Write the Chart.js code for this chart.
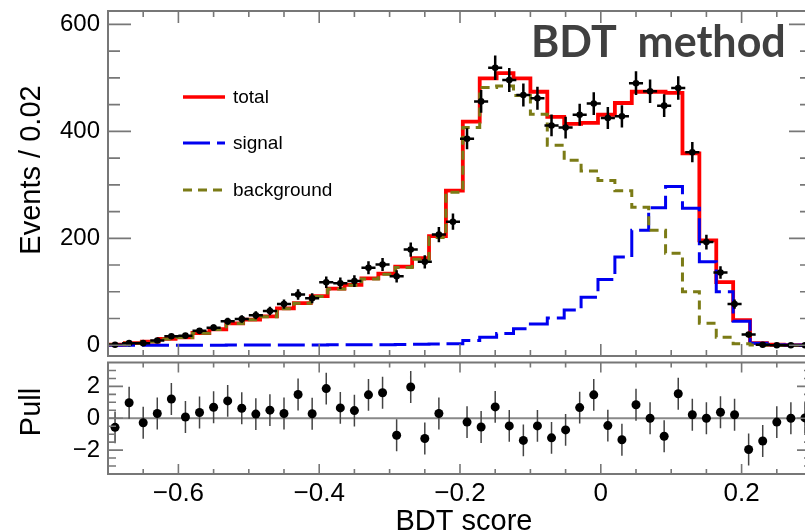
<!DOCTYPE html>
<html>
<head>
<meta charset="utf-8">
<title>BDT score fit</title>
<script src="https://cdn.jsdelivr.net/npm/chart.js@4.4.1/dist/chart.umd.min.js"></script>
<style>
  html, body { margin: 0; padding: 0; background: #fff; overflow: hidden; }
  #page { position: relative; width: 805px; height: 532px; overflow: hidden; }
  #main, #pull { position: absolute; left: 0; }
  #main { top: 0; }
  #pull { top: 358px; }
</style>
</head>
<body>
<div id="page">
  <canvas id="main" width="820" height="360"></canvas>
  <canvas id="pull" width="820" height="174"></canvas>
</div>
<script>
// data histogram: 50 bins of 0.02 starting at -0.7
var dataLo = -0.7, dataBin = 0.02;
var dataCounts = [1, 4, 4, 9, 17, 18, 27, 33, 45, 49,
                  56, 64, 77, 95, 88, 118, 116, 120, 145, 151,
                  129, 179, 156, 207, 231, 386, 456, 519, 496, 468,
                  462, 411, 407, 431, 452, 425, 428, 490, 475, 448,
                  481, 361, 193, 136, 77, 20, 1, 0, 0, 0];
// pull per data bin (the -0.21 bin is off scale)
var pulls = [-0.57, 0.97, -0.28, 0.30, 1.21, 0.08, 0.36, 0.69, 1.09, 0.63,
             0.26, 0.51, 0.30, 1.49, 0.28, 1.86, 0.65, 0.48, 1.47, 1.60,
             -1.07, 1.96, -1.27, 0.30, null, -0.24, -0.55, 0.71, -0.48, -1.39,
             -0.48, -1.23, -0.73, 0.67, 1.47, -0.46, -1.35, 0.85, 0.00, -1.13,
             1.54, 0.22, 0.00, 0.38, 0.22, -1.96, -1.43, -0.24, 0.00, 0.02];

// fit templates: 42 bins of 0.024 starting at -0.7, scaled to events / 0.02
var tmplLo = -0.7, tmplBin = 0.024;
var totalFit = [1, 4, 7, 12, 15, 23, 30, 41, 48, 54,
                69, 79, 92, 106, 113, 125, 134, 147, 163, 204,
                289, 418, 499, 509, 499, 474, 427, 414, 416, 431,
                453, 474, 474, 472, 359, 196, 118, 47, 4, 1, 0.5, 0.3];
var signalFit = [0.2, 0.2, 0.2, 0.2, 0.3, 0.3, 0.3, 0.4, 0.4, 0.5,
                 0.5, 0.6, 0.7, 0.8, 0.9, 1, 1.2, 1.5, 2, 2.5,
                 3, 9, 15, 22, 31, 40, 51, 66, 90, 123,
                 165, 215, 257, 297, 256, 156, 100, 45, 4, 1, 0.4, 0.2];
var backgroundFit = [0.8, 3.8, 6.8, 11.8, 14.7, 22.7, 29.7, 40.6, 47.6, 53.5,
                     68.5, 78.4, 91.3, 105.2, 112.1, 124, 132.8, 145.5, 161, 201.5,
                     286, 407, 482, 485, 467, 432, 374, 346, 326, 308,
                     289, 258, 215, 172, 100, 41, 15, 3, 0.5, 0.2, 0.1, 0.1];

var xTicks = [-0.6, -0.4, -0.2, 0, 0.2];
var eventTicks = [0, 200, 400, 600];
var pullTicks = [-2, 0, 2];

var RED = '#ff0000', BLUE = '#0000f0', OLIVE = '#7b7b16';
var FRAME = '#777';
Chart.defaults.font.family = '"Liberation Sans", Arial, sans-serif';
Chart.defaults.color = '#000';

function minus(v) {
  return v === 0 ? '0' : (v < 0 ? '\u2212' : '') + String(Math.abs(v));
}

function steps(vals) {
  var pts = vals.map(function (v, k) { return { x: tmplLo + k * tmplBin, y: v }; });
  pts.push({ x: tmplLo + vals.length * tmplBin, y: vals[vals.length - 1] });
  return pts;
}

var dataPoints = dataCounts.map(function (n, i) { return { x: dataLo + (i + 0.5) * dataBin, y: n }; });
var pullPoints = pulls.map(function (p, i) { return { x: dataLo + (i + 0.5) * dataBin, y: p }; });

// error bars drawn just before the points of their dataset
var errorBars = {
  id: 'errorBars',
  beforeDatasetDraw: function (chart, args) {
    var ds = chart.data.datasets[args.index];
    if (!ds.errors) return;
    var ctx = chart.ctx, a = chart.chartArea, x = chart.scales.x, y = chart.scales.y;
    ctx.save();
    ctx.beginPath();
    ctx.rect(a.left, a.top, a.width, a.height);
    ctx.clip();
    ctx.strokeStyle = ds.errorColor;
    ctx.lineWidth = ds.errorWidth;
    ctx.beginPath();
    ds.data.forEach(function (p, j) {
      if (p.y === null) return;
      var e = ds.errors[j];
      var px = x.getPixelForValue(p.x), py = y.getPixelForValue(p.y);
      ctx.moveTo(px, y.getPixelForValue(p.y - e));
      ctx.lineTo(px, y.getPixelForValue(p.y + e));
      if (ds.xErr) {
        ctx.moveTo(x.getPixelForValue(p.x - ds.xErr), py);
        ctx.lineTo(x.getPixelForValue(p.x + ds.xErr), py);
      }
    });
    ctx.stroke();
    ctx.restore();
  }
};

// ROOT style frame with inward ticks on all four sides
var framePlugin = {
  id: 'frame',
  beforeDatasetsDraw: function (chart, args, o) {
    if (o.zeroLine) {
      var ctx = chart.ctx, a = chart.chartArea, py = chart.scales.y.getPixelForValue(0);
      ctx.save();
      ctx.strokeStyle = '#888';
      ctx.lineWidth = 2;
      ctx.beginPath();
      ctx.moveTo(a.left, py);
      ctx.lineTo(a.right, py);
      ctx.stroke();
      ctx.restore();
    }
  },
  afterDraw: function (chart, args, o) {
    var ctx = chart.ctx, a = chart.chartArea, x = chart.scales.x, y = chart.scales.y;
    ctx.save();
    ctx.strokeStyle = FRAME;
    ctx.lineWidth = 1.6;
    ctx.beginPath();
    for (var i = 0; i <= 20; i++) {
      var v = x.min + i * 0.05;
      var px = x.getPixelForValue(v);
      var major = xTicks.some(function (t) { return Math.abs(t - v) < 1e-6; });
      var len = major ? o.xMajor : o.xMinor;
      ctx.moveTo(px, a.bottom); ctx.lineTo(px, a.bottom - len);
      ctx.moveTo(px, a.top); ctx.lineTo(px, a.top + len);
    }
    for (var w = o.yFrom; w <= o.yTo + 1e-6; w += o.yStep) {
      var py = y.getPixelForValue(w);
      var ymaj = o.yMajors.some(function (t) { return Math.abs(t - w) < 1e-6; });
      var l = ymaj ? o.yMajor : o.yMinor;
      ctx.moveTo(a.left, py); ctx.lineTo(a.left + l, py);
      ctx.moveTo(a.right, py); ctx.lineTo(a.right - l, py);
    }
    ctx.stroke();
    ctx.lineWidth = 2;
    ctx.strokeRect(a.left, a.top, a.width, a.height);
    ctx.restore();
  }
};

// free text, titles and the legend box
var textPlugin = {
  id: 'texts',
  afterDraw: function (chart, args, o) {
    var ctx = chart.ctx;
    ctx.save();
    (o.lines || []).forEach(function (l) {
      ctx.strokeStyle = l.color;
      ctx.lineWidth = l.width;
      ctx.setLineDash(l.dash || []);
      ctx.beginPath();
      ctx.moveTo(l.x0, l.y);
      ctx.lineTo(l.x1, l.y);
      ctx.stroke();
    });
    ctx.setLineDash([]);
    (o.items || []).forEach(function (t) {
      ctx.save();
      ctx.font = t.font;
      ctx.fillStyle = t.color || '#000';
      ctx.textAlign = t.align || 'left';
      ctx.textBaseline = t.baseline || 'middle';
      ctx.translate(t.x, t.y);
      if (t.rotate) ctx.rotate(-Math.PI / 2);
      ctx.fillText(t.text, 0, 0);
      ctx.restore();
    });
    ctx.restore();
  }
};

var hiddenGrid = { display: false, drawTicks: false };

new Chart(document.getElementById('main'), {
  type: 'line',
  data: {
    datasets: [
      { label: 'data', data: dataPoints, showLine: false, pointRadius: 3.3,
        pointBackgroundColor: '#000', pointBorderWidth: 0, order: 0,
        errors: dataCounts.map(Math.sqrt), xErr: dataBin / 2, errorWidth: 2.5, errorColor: '#000' },
      { label: 'background', data: steps(backgroundFit), stepped: 'before', borderColor: OLIVE,
        borderWidth: 3, borderDash: [9, 6], pointRadius: 0, order: 1 },
      { label: 'signal', data: steps(signalFit), stepped: 'before', borderColor: BLUE,
        borderWidth: 3, borderDash: [27, 7], pointRadius: 0, order: 2 },
      { label: 'total', data: steps(totalFit), stepped: 'before', borderColor: RED,
        borderWidth: 3.8, pointRadius: 0, order: 3 }
    ]
  },
  options: {
    responsive: false,
    animation: false,
    events: [],
    layout: { padding: { left: 0, top: 11, right: 8, bottom: 0 } },
    scales: {
      x: {
        type: 'linear', min: -0.7, max: 0.3,
        grid: hiddenGrid, border: { display: false }, ticks: { display: false },
        afterFit: function (s) { s.height = 2; s.paddingLeft = 0; s.paddingRight = 0; }
      },
      y: {
        min: -20, max: 625,
        grid: hiddenGrid, border: { display: false },
        ticks: { font: { size: 24 }, padding: 8, color: '#000' },
        afterBuildTicks: function (s) { s.ticks = eventTicks.map(function (v) { return { value: v }; }); },
        afterFit: function (s) { s.width = 108; s.paddingTop = 0; s.paddingBottom = 0; }
      }
    },
    plugins: {
      legend: { display: false },
      tooltip: { enabled: false },
      frame: { xMajor: 12, xMinor: 6, yFrom: 0, yTo: 600, yStep: 50, yMajors: eventTicks, yMajor: 23, yMinor: 12 },
      texts: {
        lines: [
          { x0: 183, x1: 225, y: 97, color: RED, width: 3.6 },
          { x0: 183, x1: 225, y: 143, color: BLUE, width: 3, dash: [27, 7] },
          { x0: 183, x1: 225, y: 190, color: OLIVE, width: 3, dash: [9, 6] }
        ],
        items: [
          { text: 'total', x: 233, y: 98, font: '19px "Liberation Sans", Arial' },
          { text: 'signal', x: 233, y: 144, font: '19px "Liberation Sans", Arial' },
          { text: 'background', x: 233, y: 191, font: '19px "Liberation Sans", Arial' },
          { text: 'Events / 0.02', x: 32, y: 170, rotate: true, align: 'center', font: '29px "Liberation Sans", Arial' },
          { text: 'BDT  method', x: 531, y: 57, baseline: 'alphabetic', color: '#404040', font: 'bold 43px Lato, "Open Sans", sans-serif' }
        ]
      }
    }
  },
  plugins: [errorBars, framePlugin, textPlugin]
});

new Chart(document.getElementById('pull'), {
  type: 'line',
  data: {
    datasets: [
      { label: 'pull', data: pullPoints, showLine: false, pointRadius: 4.5,
        pointBackgroundColor: '#000', pointBorderWidth: 0,
        errors: pulls.map(function () { return 1; }), errorWidth: 1.5, errorColor: '#444' }
    ]
  },
  options: {
    responsive: false,
    animation: false,
    events: [],
    layout: { padding: { left: 0, top: 2, right: 8, bottom: 0 } },
    scales: {
      x: {
        type: 'linear', min: -0.7, max: 0.3,
        grid: hiddenGrid, border: { display: false },
        ticks: { font: { size: 26 }, padding: 4, color: '#000', autoSkip: false, maxRotation: 0, minRotation: 0,
                 callback: function (v) { return minus(v); } },
        afterBuildTicks: function (s) { s.ticks = xTicks.map(function (v) { return { value: v }; }); },
        afterFit: function (s) { s.height = 58; s.paddingLeft = 0; s.paddingRight = 0; }
      },
      y: {
        min: -3.5, max: 3.5,
        grid: hiddenGrid, border: { display: false },
        ticks: { font: { size: 24 }, padding: 8, color: '#000', callback: function (v) { return minus(v); } },
        afterBuildTicks: function (s) { s.ticks = pullTicks.map(function (v) { return { value: v }; }); },
        afterFit: function (s) { s.width = 108; s.paddingTop = 0; s.paddingBottom = 0; }
      }
    },
    plugins: {
      legend: { display: false },
      tooltip: { enabled: false },
      frame: { zeroLine: true, xMajor: 10, xMinor: 5, yFrom: -3, yTo: 3, yStep: 0.5, yMajors: pullTicks, yMajor: 15, yMinor: 8 },
      texts: {
        items: [
          { text: 'Pull', x: 32, y: 54, rotate: true, align: 'center', font: '29px "Liberation Sans", Arial' },
          { text: 'BDT score', x: 464, y: 164, align: 'center', font: '29px "Liberation Sans", Arial' }
        ]
      }
    }
  },
  plugins: [errorBars, framePlugin, textPlugin]
});
</script>
</body>
</html>
